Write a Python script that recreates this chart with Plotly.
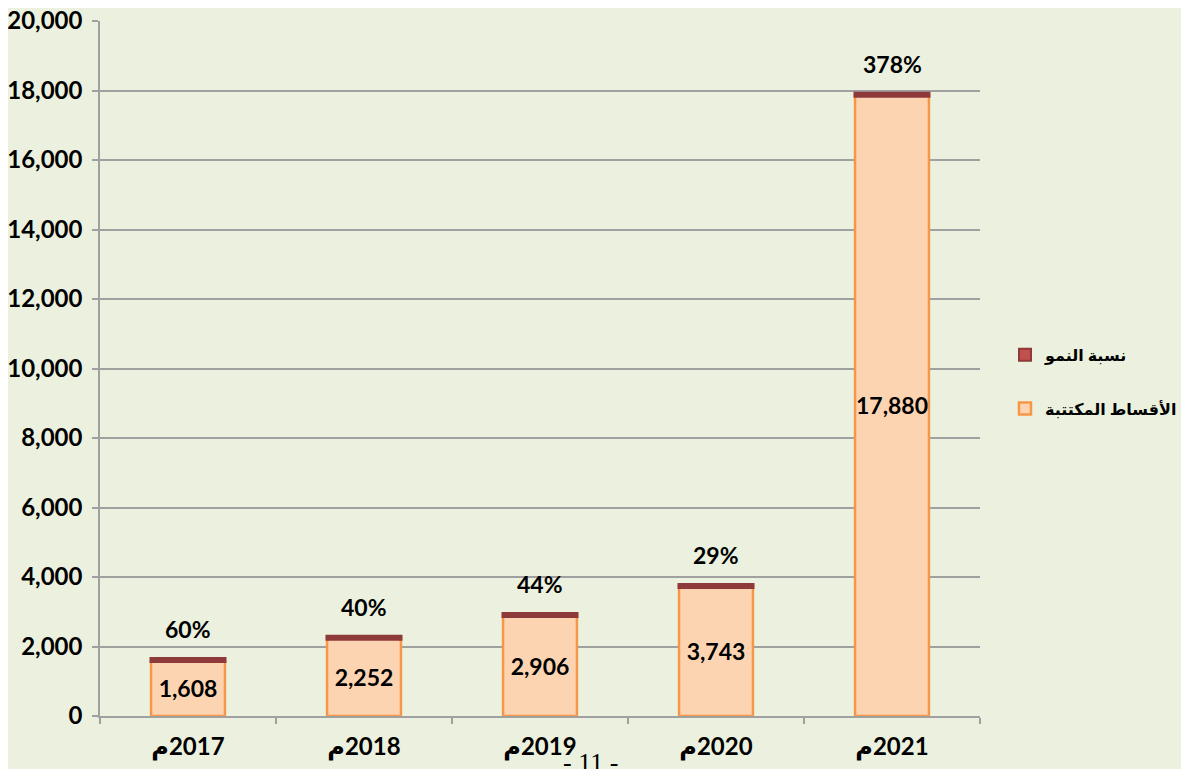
import plotly.graph_objects as go

# Data
years = ["م\u200e2017", "م\u200e2018", "م\u200e2019", "م\u200e2020", "م\u200e2021"]
premiums = [1608, 2252, 2906, 3743, 17880]
growth = ["60%", "40%", "44%", "29%", "378%"]
premium_name = "الأقساط المكتتبة"
growth_name = "نسبة النمو"

FONT = "Lato, DejaVu Sans, sans-serif"
BG = "#EBF1DE"
CAP = "#8E3A3A"

fig = go.Figure()

# premiums bars
fig.add_trace(go.Bar(
    x=years, y=premiums, name=premium_name,
    marker=dict(color="#FDD4B2", line=dict(color="#F79646", width=2.5)),
    width=0.42,
    text=[f"{v:,}" for v in premiums],
    textposition="inside", insidetextanchor="middle",
    textangle=0, constraintext="none",
    textfont=dict(family=FONT, size=23, color="black", weight="bold"),
    legendgroup="p", legendrank=2,
))

# growth caps on top of the bars
fig.add_trace(go.Scatter(
    x=years, y=premiums, mode="markers",
    marker=dict(symbol="line-ew", size=55, line=dict(color=CAP, width=6)),
    showlegend=False, hoverinfo="skip",
))

# legend entry for growth
fig.add_trace(go.Bar(
    x=[years[0]], y=[None], name=growth_name,
    marker=dict(color="#C0504D", line=dict(color=CAP, width=2)),
    legendgroup="g", legendrank=1,
))

annotations = []
for yr, v, g in zip(years, premiums, growth):
    annotations.append(dict(
        x=yr, y=v, text=g, showarrow=False, yshift=31,
        font=dict(family=FONT, size=23, color="black", weight="bold"),
    ))
annotations.append(dict(
    x=0.5, y=0.0, xref="paper", yref="paper", yanchor="middle",
    yshift=-46, xshift=50,
    text="- 11 -", showarrow=False,
    font=dict(family="Liberation Serif", size=26, color="black"),
))

fig.update_layout(
    width=1189, height=769,
    margin=dict(l=92, r=217, t=13, b=61),
    paper_bgcolor=BG, plot_bgcolor=BG,
    barmode="overlay",
    showlegend=True,
    legend=dict(
        xref="container", yref="container",
        x=0.8385, y=0.514, xanchor="left", yanchor="middle",
        font=dict(family=FONT, size=16, color="black", weight="bold"),
        bgcolor="rgba(0,0,0,0)", borderwidth=0, tracegroupgap=30,
        traceorder="grouped", itemwidth=30,
    ),
    annotations=annotations,
    font=dict(family=FONT, color="black"),
)

fig.update_yaxes(
    range=[0, 20000], dtick=2000, tickformat=",",
    showgrid=True, gridcolor="#A0A0A0", gridwidth=1.5,
    showline=True, linecolor="#A0A0A0", linewidth=1.5,
    ticks="outside", ticklen=6, tickcolor="#A0A0A0", tickwidth=1.5,
    tickfont=dict(family=FONT, size=24, color="black", weight="bold"),
    ticklabelstandoff=5, ticklabeloverflow="allow",
    zeroline=False, automargin=False,
)
fig.update_xaxes(
    range=[-0.5, 4.5],
    showline=True, linecolor="#A0A0A0", linewidth=1.5,
    ticks="outside", ticklen=6, tickcolor="#A0A0A0", tickwidth=1.5,
    tickson="boundaries", ticklabelstandoff=8, ticklabeloverflow="allow",
    tickfont=dict(family=FONT, size=24, color="black", weight="bold"),
    showgrid=False, automargin=False,
)

fig.write_html("out.html")
